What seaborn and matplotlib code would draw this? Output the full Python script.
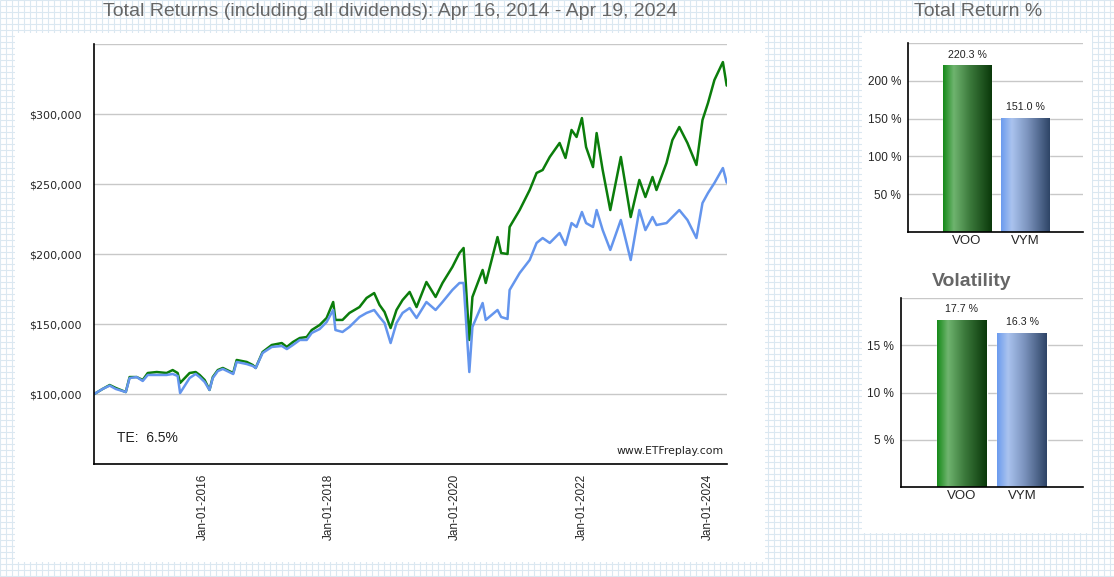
import numpy as np
import pandas as pd
import matplotlib
matplotlib.use("Agg")
import matplotlib.pyplot as plt
import matplotlib.dates as mdates
from matplotlib.patches import Rectangle
from matplotlib.colors import LinearSegmentedColormap
import seaborn as sns

# growth of $100,000
dates = ["2014-04-16", "2014-06-03", "2014-07-14", "2014-08-18", "2014-10-15",
         "2014-11-06", "2014-12-17", "2015-01-21", "2015-02-19", "2015-04-12",
         "2015-06-08", "2015-07-13", "2015-08-11", "2015-08-25", "2015-10-19",
         "2015-11-23", "2015-12-16", "2016-01-14", "2016-02-11", "2016-03-01",
         "2016-03-30", "2016-04-28", "2016-06-27", "2016-07-17", "2016-09-13",
         "2016-10-18", "2016-11-04", "2016-12-14", "2017-02-05", "2017-04-04",
         "2017-05-03", "2017-06-07", "2017-07-17", "2017-08-26", "2017-09-24",
         "2017-11-09", "2017-12-19", "2018-01-26", "2018-02-08", "2018-03-21",
         "2018-04-30", "2018-06-27", "2018-08-07", "2018-09-20", "2018-10-21",
         "2018-11-19", "2018-12-24", "2019-01-27", "2019-03-03", "2019-04-13",
         "2019-05-23", "2019-07-19", "2019-09-10", "2019-10-20", "2019-12-16",
         "2020-01-26", "2020-02-19", "2020-03-23", "2020-04-10", "2020-06-08",
         "2020-06-26", "2020-09-02", "2020-09-23", "2020-10-30", "2020-11-11",
         "2021-01-08", "2021-03-07", "2021-04-16", "2021-05-21", "2021-07-01",
         "2021-08-27", "2021-09-30", "2021-11-04", "2021-12-03", "2022-01-03",
         "2022-01-27", "2022-03-08", "2022-03-29", "2022-05-03", "2022-06-16",
         "2022-08-16", "2022-10-12", "2022-12-01", "2023-01-05", "2023-02-15",
         "2023-03-10", "2023-05-07", "2023-06-10", "2023-07-20", "2023-09-05",
         "2023-10-27", "2023-12-01", "2024-01-02", "2024-02-08", "2024-03-28",
         "2024-04-19"]
voo = [100000, 103600, 106400, 104300, 101400,
       112100, 112100, 110000, 115000, 115700,
       115000, 117100, 115000, 107900, 115000,
       115700, 113600, 110000, 102900, 112100,
       117100, 118600, 115000, 124300, 122900,
       120700, 118600, 130000, 135000, 136400,
       133600, 137100, 140000, 140700, 145700,
       149300, 154300, 165700, 152900, 152900,
       157900, 162100, 168600, 172100, 163600,
       158600, 147100, 160000, 167100, 172900,
       162100, 180000, 169300, 179300, 190700,
       200700, 204300, 138600, 169300, 188600,
       179300, 212100, 200700, 200000, 219300,
       231400, 245700, 257900, 260000, 269300,
       279300, 268600, 288600, 283600, 297100,
       276400, 262100, 286400, 260000, 231400,
       269300, 226400, 252900, 240700, 255000,
       245700, 265000, 281400, 290700, 279300,
       263600, 295700, 307900, 324300, 337100,
       320300]
vym = [100000, 103600, 106000, 103600, 101400,
       111400, 112100, 109300, 113600, 113600,
       113600, 114300, 112900, 100700, 111400,
       114300, 112100, 108600, 102900, 111400,
       116400, 117900, 114300, 122900, 121400,
       120000, 118600, 129300, 133600, 134300,
       132100, 135000, 138600, 138600, 143600,
       146400, 151400, 160000, 145700, 144300,
       147900, 155000, 157900, 160000, 155000,
       150700, 136400, 150700, 157900, 161400,
       154300, 165700, 160000, 165700, 174300,
       179300, 179300, 115700, 147900, 165000,
       152900, 160000, 155000, 153600, 174300,
       186400, 195700, 207900, 211400, 207900,
       215000, 206400, 222100, 219300, 230000,
       222100, 219300, 231400, 217100, 202900,
       224300, 195700, 231400, 217100, 226400,
       220700, 222100, 226400, 231400, 224300,
       211400, 236400, 243600, 250700, 261400,
       251000]

tickers = ["VOO", "VYM"]
total_return = [220.3, 151.0]
volatility = [17.7, 16.3]
tracking_error = 6.5

df = pd.DataFrame({
    "date": pd.to_datetime(dates * 2),
    "value": voo + vym,
    "fund": ["VOO"] * len(dates) + ["VYM"] * len(dates),
})

sns.set_style("white")
plt.rcParams["font.family"] = ["Liberation Sans", "DejaVu Sans"]

W, H = 1114, 577
fig = plt.figure(figsize=(W / 100, H / 100), dpi=100)

# graph paper background + white panels
bg = fig.add_axes([0, 0, 1, 1])
bg.set_xlim(0, W)
bg.set_ylim(H, 0)
bg.axis("off")
bg.vlines(np.arange(0, W + 1, 6), 0, H, color="#dbe8f1", lw=0.8, zorder=1)
bg.hlines(np.arange(0, H + 1, 6), 0, W, color="#dbe8f1", lw=0.8, zorder=1)
bg.add_patch(Rectangle((15, 33), 750, 529, fc="white", ec="none", zorder=3))
bg.add_patch(Rectangle((862, 33), 230, 500, fc="white", ec="none", zorder=3))

# main line chart
ax = fig.add_axes([94.3 / W, 1 - 464 / H, 632.4 / W, 420 / H])
sns.lineplot(data=df, x="date", y="value", hue="fund", hue_order=tickers,
             palette=["#0b7d0b", "#6495ed"], lw=1.8, legend=False,
             estimator=None, ax=ax)
ax.set_xlim(df["date"].min(), df["date"].max())
ax.set_ylim(50000, 350000)
yt = [50000, 100000, 150000, 200000, 250000, 300000, 350000]
ax.set_yticks(yt)
ax.set_yticklabels(["" if v in (50000, 350000) else f"${v:,.0f}" for v in yt],
                   family="DejaVu Sans", fontsize=8)
ax.yaxis.grid(True, color="#c8c8c8", lw=1)
ax.set_axisbelow(True)
ax.xaxis.set_major_locator(mdates.YearLocator(2))
ax.xaxis.set_major_formatter(mdates.DateFormatter("%b-%d-%Y"))
ax.tick_params(axis="x", rotation=90, labelsize=8.5, length=5, width=1, pad=2)
ax.tick_params(axis="y", length=6, width=1, pad=3)
ax.set_xlabel("")
ax.set_ylabel("")
for s in ["top", "right"]:
    ax.spines[s].set_visible(False)
for s in ["left", "bottom"]:
    ax.spines[s].set_color("black")
    ax.spines[s].set_linewidth(1.2)
ax.text(0.036, 0.052, f"TE:  {tracking_error}%", transform=ax.transAxes,
        fontsize=10, color="#222222")
ax.text(0.996, 0.025, "www.ETFreplay.com", transform=ax.transAxes,
        ha="right", family="DejaVu Sans", fontsize=7.8, color="#222222")

fig.text(390 / W, 1 - 12 / H, "Total Returns (including all dividends): Apr 16, 2014 - Apr 19, 2024",
         ha="center", va="center", fontsize=14, color="#666666")
fig.text(978 / W, 1 - 12 / H, "Total Return %", ha="center", va="center",
         fontsize=14, color="#666666")
fig.text(972 / W, 1 - 281 / H, "Volatility", ha="center", va="center",
         fontsize=14, fontweight="bold", color="#666666")

grad = {
    "VOO": LinearSegmentedColormap.from_list(
        "g", [(0, "#158a18"), (0.22, "#6fb46f"), (0.55, "#3c7a3c"), (1, "#0a380a")]),
    "VYM": LinearSegmentedColormap.from_list(
        "b", [(0, "#6b9bee"), (0.22, "#aac3ef"), (0.55, "#7b93bd"), (1, "#2e4466")]),
}


def bar_panel(rect, values, top, ticks, width, xl):
    bx = fig.add_axes(rect)
    sns.barplot(x=tickers, y=values, hue=tickers, palette=["#2e8b2e", "#8aa8e0"],
                width=width, legend=False, ax=bx)
    bx.set_xlim(*xl)
    bx.set_ylim(0, top)
    bx.set_yticks(ticks)
    bx.set_yticklabels(["" if t == top else f"{t:g} %" for t in ticks], fontsize=8.5)
    bx.yaxis.grid(True, color="#c8c8c8", lw=1)
    bx.set_axisbelow(True)
    bx.tick_params(axis="y", length=0, pad=5)
    bx.tick_params(axis="x", length=0, labelsize=9.5, pad=2)
    for s in ["top", "right"]:
        bx.spines[s].set_visible(False)
    for s in ["left", "bottom"]:
        bx.spines[s].set_color("black")
        bx.spines[s].set_linewidth(1.2)
    gimg = np.linspace(0, 1, 256).reshape(1, -1)
    for p, name, v in zip(bx.patches, tickers, values):
        x0, w, h = p.get_x(), p.get_width(), p.get_height()
        im = bx.imshow(gimg, cmap=grad[name], aspect="auto",
                       extent=[x0, x0 + w, 0, h], zorder=p.get_zorder() + 0.1)
        im.set_clip_path(p)
        bx.annotate(f"{v:.1f} %", (x0 + w / 2, h), xytext=(0, 4),
                    textcoords="offset points", ha="center", va="bottom",
                    fontsize=7.7, color="#222222")
    bx.set_xlim(*xl)
    bx.set_ylim(0, top)
    return bx


bar_panel([908 / W, 1 - 232 / H, 175 / W, 189 / H], total_return, 250,
          [50, 100, 150, 200, 250], 0.83, (-1.02, 2.0))
bar_panel([901 / W, 1 - 487 / H, 182 / W, 189 / H], volatility, 20,
          [5, 10, 15, 20], 0.82, (-1.0, 2.0))

fig.savefig("out.png", dpi=100)
